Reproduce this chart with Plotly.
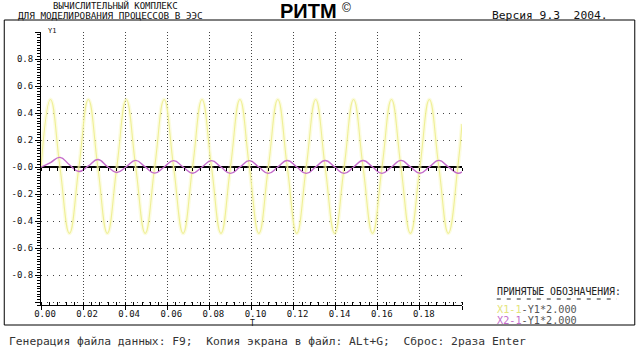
import plotly.graph_objects as go

# ---------------- data ----------------
t = [0.0, 0.0045, 0.009, 0.0135, 0.018, 0.0225, 0.027, 0.0315, 0.036, 0.0405,
     0.045, 0.0495, 0.054, 0.0585, 0.063, 0.0675, 0.072, 0.0765, 0.081, 0.0855,
     0.09, 0.0945, 0.099, 0.1035, 0.108, 0.1125, 0.117, 0.1215, 0.126, 0.1305,
     0.135, 0.1395, 0.144, 0.1485, 0.153, 0.1575, 0.162, 0.1665, 0.171, 0.1755,
     0.18, 0.1845, 0.189, 0.1935, 0.198, 0.2]

x1_1 = [0.0, 0.50, 0.0, -0.49, 0.0, 0.50, 0.0, -0.49, 0.0, 0.50,
        0.0, -0.49, 0.0, 0.50, 0.0, -0.49, 0.0, 0.50, 0.0, -0.49,
        0.0, 0.50, 0.0, -0.49, 0.0, 0.50, 0.0, -0.49, 0.0, 0.50,
        0.0, -0.49, 0.0, 0.50, 0.0, -0.49, 0.0, 0.50, 0.0, -0.49,
        0.0, 0.50, 0.0, -0.49, 0.0, 0.32]

x2_1 = [0.0, 0.034, 0.072, 0.018, -0.032, 0.009, 0.057, 0.005, -0.040, 0.003,
        0.050, 0.002, -0.044, 0.001, 0.048, 0.001, -0.045, 0.001, 0.048, 0.001,
        -0.046, 0.001, 0.048, 0.001, -0.046, 0.001, 0.049, 0.001, -0.046, 0.001,
        0.049, 0.001, -0.046, 0.001, 0.049, 0.001, -0.046, 0.001, 0.050, 0.002,
        -0.045, 0.002, 0.050, 0.002, -0.045, -0.035]

x_tick_vals = [0.0, 0.02, 0.04, 0.06, 0.08, 0.10, 0.12, 0.14, 0.16, 0.18, 0.20]
x_tick_text = ["0.00", "0.02", "0.04", "0.06", "0.08", "0.10", "0.12", "0.14", "0.16", "0.18", ""]
y_tick_vals = [-1.0, -0.8, -0.6, -0.4, -0.2, 0.0, 0.2, 0.4, 0.6, 0.8, 1.0]
y_tick_text = ["", "-0.8", "-0.6", "-0.4", "-0.2", "-0.0", "0.2", "0.4", "0.6", "0.8", ""]

# ---------------- layout geometry ----------------
W, H = 640, 350
L, R, T, B = 38, 178, 32, 45
PW, PH = W - L - R, H - T - B
Y_MIN, Y_MAX = -1.02, 1.0


def px(x):
    return (x - L) / PW


def py(y):
    return (H - B - y) / PH


MONO = "DejaVu Sans Mono"
YELLOW = "#efef96"
MAGENTA = "#c46ccb"

fig = go.Figure()
# faint glow under the yellow line
fig.add_trace(go.Scatter(x=t, y=x1_1, mode="lines", line=dict(color="rgba(245,245,170,0.35)", width=4,
                                                               shape="spline", smoothing=1.3),
                         hoverinfo="skip", showlegend=False))
fig.add_trace(go.Scatter(x=t, y=x1_1, mode="lines", line=dict(color=YELLOW, width=1.1,
                                                               shape="spline", smoothing=1.3),
                         name="X1-1", showlegend=False))
fig.add_trace(go.Scatter(x=t, y=x2_1, mode="lines", line=dict(color=MAGENTA, width=1.4,
                                                               shape="spline", smoothing=1.3),
                         name="X2-1", showlegend=False))
# carrier trace for the tick axis drawn along the zero line
fig.add_trace(go.Scatter(x=[], y=[], xaxis="x2", yaxis="y", showlegend=False, hoverinfo="skip"))

fig.update_layout(
    width=W, height=H,
    margin=dict(l=L, r=R, t=T, b=B, pad=0),
    paper_bgcolor="white", plot_bgcolor="white",
    font=dict(family=MONO, size=9, color="#111"),
    xaxis=dict(
        range=[0, 0.2], tickmode="array", tickvals=x_tick_vals, ticktext=x_tick_text,
        ticks="outside", ticklen=4, tickcolor="black", tickwidth=1,
        showline=True, linecolor="black", linewidth=1,
        showgrid=True, gridcolor="#444", gridwidth=1, griddash="1px,2px",
        zeroline=False, ticklabelshift=4, ticklabelstandoff=-4,
        tickfont=dict(family=MONO, size=9, color="#111"),
        minor=dict(dtick=0.004, tick0=0, ticks="inside", ticklen=3, tickcolor="black", showgrid=False),
    ),
    xaxis2=dict(
        range=[0, 0.2], overlaying="x", anchor="free",
        position=(0 - Y_MIN) / (Y_MAX - Y_MIN),
        tickmode="linear", tick0=0, dtick=0.004, ticks="outside", ticklen=3,
        tickcolor="black", showticklabels=False, showgrid=False, showline=False, zeroline=False,
    ),
    yaxis=dict(
        range=[Y_MIN, Y_MAX], tickmode="array", tickvals=y_tick_vals, ticktext=y_tick_text,
        ticks="outside", ticklen=5, tickcolor="black",
        showline=True, linecolor="black", linewidth=1,
        showgrid=True, gridcolor="#444", gridwidth=1, griddash="1px,5px",
        zeroline=True, zerolinecolor="black", zerolinewidth=1.5,
        tickfont=dict(family=MONO, size=9, color="#111"),
        minor=dict(dtick=0.02, tick0=0, ticks="outside", ticklen=3, tickcolor="black", showgrid=False),
    ),
)

# outer frame (four edges) and legend separator
frame = [(1, 20, 636, 20), (1, 325, 636, 325), (1, 20, 1, 325), (636, 20, 636, 325)]
for (xa, ya, xb, yb) in frame:
    fig.add_shape(type="line", xref="paper", yref="paper", x0=px(xa), x1=px(xb), y0=py(ya), y1=py(yb),
                  line=dict(color="black", width=1))
fig.add_shape(type="line", xref="paper", yref="paper", x0=px(497), x1=px(618), y0=py(299), y1=py(299),
              line=dict(color="#222", width=1, dash="4px,6px"))

NB = "\u00a0"


def note(text, x, y, size, color="#111", family=MONO, xanchor="left"):
    fig.add_annotation(text=text, xref="paper", yref="paper", x=px(x), y=py(y),
                       xanchor=xanchor, yanchor="middle", showarrow=False,
                       font=dict(family=family, size=size, color=color))


note("ВЫЧИСЛИТЕЛЬНЫЙ КОМПЛЕКС", 113, 6, 9, xanchor="center")
note("ДЛЯ МОДЕЛИРОВАНИЯ ПРОЦЕССОВ В ЭЭС", 108, 16, 9.3, xanchor="center")
note("<b>РИТМ</b>", 277, 11, 20, color="black", family="Liberation Sans")
note("©", 339, 8, 12, color="black", family="Liberation Sans")
note("Версия 9.3" + NB + NB + "2004.", 490, 16, 11.3)
note("Генерация файла данных: F9;" + NB + NB + "Копия экрана в файл: ALt+G;" + NB + NB
     + "Сброс: 2раза Enter", 4, 341, 11.3, color="#333")
note("ПРИНЯТЫЕ ОБОЗНАЧЕНИЯ:", 495, 291, 9.8, color="#222")
note('<span style="color:%s">X1-1</span>-Y1*2.000' % "#e4e47a", 495, 309, 10.2, color="#555")
note('<span style="color:%s">X2-1</span>-Y1*2.000' % MAGENTA, 495, 320, 10.2, color="#555")
note("T", 246, 323, 8)
note("Y1", 43, 31, 7)

fig.write_html("out.html", config={"displayModeBar": False},
               post_script="document.body.style.margin='0';document.body.style.overflow='hidden';")
